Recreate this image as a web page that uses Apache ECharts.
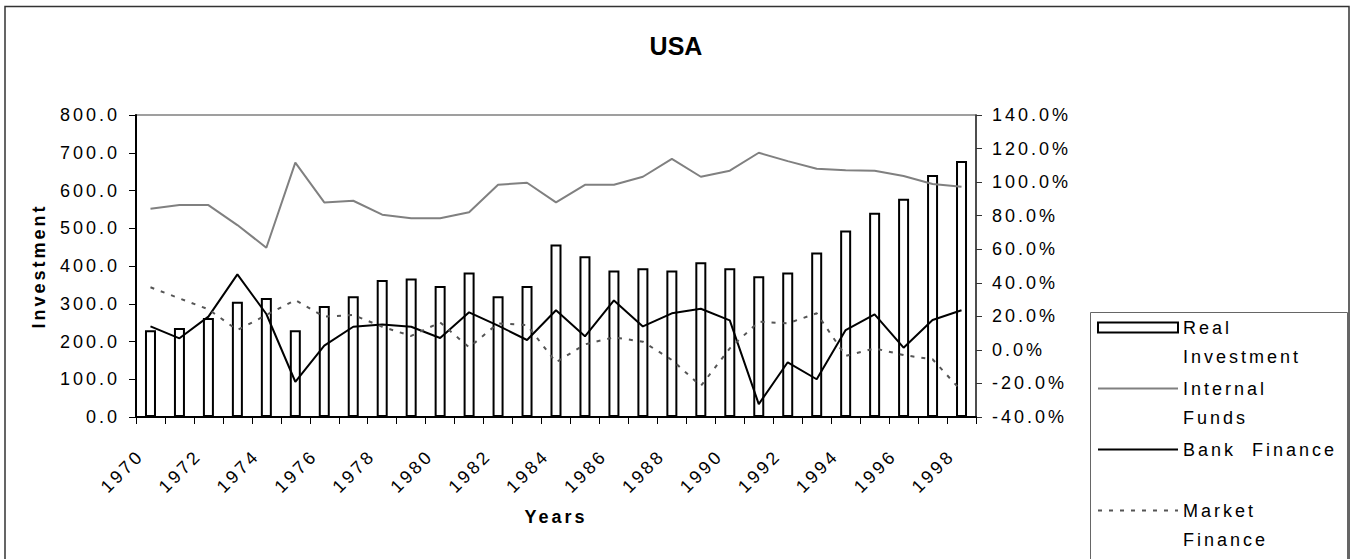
<!DOCTYPE html>
<html>
<head>
<meta charset="utf-8">
<title>USA</title>
<script src="https://cdn.jsdelivr.net/npm/echarts@6/dist/echarts.min.js"></script>
<style>
  html, body { margin: 0; padding: 0; background: #fff; }
  #main { width: 1352px; height: 559px; }
  #main text { letter-spacing: 3px; }
  #main text[style*="25px"] { letter-spacing: 0; }
</style>
</head>
<body>
<div id="main"></div>
<script>
  // data
  var years = ['1970','1971','1972','1973','1974','1975','1976','1977','1978','1979',
               '1980','1981','1982','1983','1984','1985','1986','1987','1988','1989',
               '1990','1991','1992','1993','1994','1995','1996','1997','1998']
  var realInvestment = [230,236,262,305,315,230,294,320,363,367,347,383,320,347,457,426,
                        388,394,388,410,394,373,383,436,494,541,578,641,678]
  var internalFunds = [84.1,86.3,86.3,74.4,60.9,111.6,87.9,88.9,80.6,78.4,78.4,82.0,98.4,99.6,
                       87.9,98.4,98.4,103.2,113.8,103.2,106.8,117.5,112.5,108.0,107.0,106.8,103.6,98.9,97.2]
  var bankFinance = [14.0,6.9,19.8,45.0,21.4,-19.0,2.5,13.8,15.2,13.8,7.1,22.4,14.5,5.9,23.6,8.1,
                     29.5,14.0,21.8,24.5,17.6,-32.3,-7.4,-17.5,11.8,21.2,1.3,17.8,23.6]
  var marketFinance = [37.3,30.7,24.2,11.8,20.8,29.7,19.8,20.8,13.8,8.3,16.4,1.5,15.8,14.8,-7.4,3.3,
                       7.5,4.9,-6.0,-21.5,0.9,16.8,15.8,21.8,-3.6,0.9,-3.1,-5.6,-24.5]

  var font = 'Liberation Sans, Arial, sans-serif'
  // legend labels, blank first line keeps the icon on the first text line
  var legendText = {
      'Real Investment': '\nReal\nInvestment',
      'Internal Funds': '\nInternal\nFunds',
      'Bank Finance': '\nBank  Finance\n ',
      'Market Finance': '\nMarket\nFinance'
  }

  var myChart = echarts.init(document.getElementById('main'), null, {renderer: 'svg'})

  var option = {
      backgroundColor: '#fff',
      animation: false,
      textStyle: { fontFamily: font },
      title: {
          text: 'USA',
          left: 'center',
          top: 28,
          textStyle: { fontSize: 25, fontWeight: 'bold', color: '#000', fontFamily: font }
      },
      graphic: [
          { type: 'rect', shape: { x: 5, y: 6.5, width: 1344, height: 600 },
            style: { fill: 'none', stroke: '#333', lineWidth: 1.5 }, silent: true },
          { type: 'rect', shape: { x: 1090.5, y: 312.5, width: 257, height: 300 },
            style: { fill: 'none', stroke: '#666', lineWidth: 1 }, silent: true }
      ],
      legend: {
          orient: 'vertical',
          left: 1097,
          top: 284,
          padding: 0,
          itemGap: -26,
          itemWidth: 80,
          itemHeight: 10,
          selectedMode: false,
          formatter: function (name) { return legendText[name] },
          textStyle: { fontSize: 18, lineHeight: 29, color: '#000', fontFamily: font },
          data: [
              { name: 'Real Investment', icon: 'rect' },
              { name: 'Internal Funds', itemStyle: { opacity: 0 } },
              { name: 'Bank Finance', itemStyle: { opacity: 0 } },
              { name: 'Market Finance', itemStyle: { opacity: 0 } }
          ]
      },
      grid: {
          left: 136, right: 376, top: 115, bottom: 142,
          show: true, borderColor: '#808080', borderWidth: 1.5,
          containLabel: false, outerBoundsMode: 'none'
      },
      xAxis: {
          type: 'category',
          data: years,
          boundaryGap: true,
          name: 'Years',
          nameLocation: 'middle',
          nameGap: 91,
          nameTextStyle: { fontSize: 18, fontWeight: 'bold', color: '#000', fontFamily: font },
          axisLine: { lineStyle: { color: '#000', width: 2 } },
          axisTick: { show: true, interval: 0, length: 7, lineStyle: { color: '#000' } },
          axisLabel: { interval: 1, rotate: 45, margin: 26, padding: [0, 14, 0, 0],
                       fontSize: 18, color: '#000', fontFamily: font },
          splitLine: { show: false }
      },
      yAxis: [
          {
              type: 'value',
              min: 0, max: 800, interval: 100,
              name: 'Investment',
              nameLocation: 'middle',
              nameGap: 88,
              nameRotate: 90,
              nameTextStyle: { fontSize: 18, fontWeight: 'bold', color: '#000', fontFamily: font },
              axisLine: { show: true, lineStyle: { color: '#000', width: 2 } },
              axisTick: { show: true, length: 7, lineStyle: { color: '#000' } },
              axisLabel: { margin: 16, fontSize: 18, color: '#000', fontFamily: font,
                           formatter: function (v) { return v.toFixed(1) } },
              splitLine: { show: false }
          },
          {
              type: 'value',
              min: -40, max: 140, interval: 20,
              position: 'right',
              axisLine: { show: true, lineStyle: { color: '#333', width: 1.5 } },
              axisTick: { show: true, length: 6, lineStyle: { color: '#333' } },
              axisLabel: { margin: 16, fontSize: 18, color: '#000', fontFamily: font,
                           formatter: function (v) { return v.toFixed(1) + '%' } },
              splitLine: { show: false }
          }
      ],
      series: [
          {
              name: 'Real Investment',
              type: 'bar',
              yAxisIndex: 0,
              barWidth: 11,
              itemStyle: { color: '#fff', borderColor: '#000', borderWidth: 2 },
              data: realInvestment
          },
          {
              name: 'Internal Funds',
              type: 'line',
              yAxisIndex: 1,
              symbol: 'none',
              lineStyle: { color: '#808080', width: 2 },
              itemStyle: { color: '#808080' },
              data: internalFunds
          },
          {
              name: 'Bank Finance',
              type: 'line',
              yAxisIndex: 1,
              symbol: 'none',
              lineStyle: { color: '#000', width: 2 },
              itemStyle: { color: '#000' },
              data: bankFinance
          },
          {
              name: 'Market Finance',
              type: 'line',
              yAxisIndex: 1,
              symbol: 'none',
              lineStyle: { color: '#555', width: 2, type: [4, 7] },
              itemStyle: { color: '#555' },
              data: marketFinance
          }
      ]
  }

  myChart.setOption(option)
</script>
</body>
</html>
